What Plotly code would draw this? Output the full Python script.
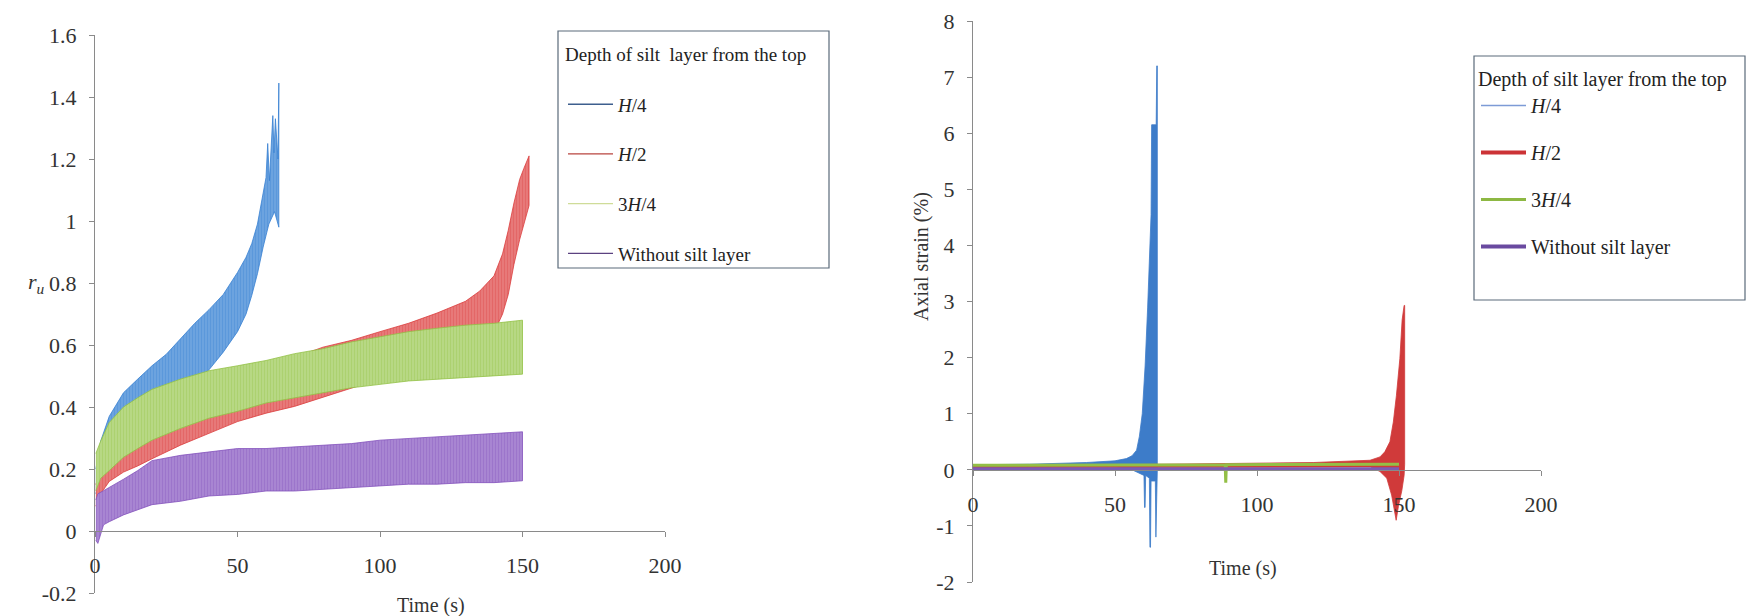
import plotly.graph_objects as go

# ---------------- Left panel: excess pore pressure ratio r_u (band envelopes) -------------
# H/4
t_h4_up = [0.3, 2, 5, 10, 15, 20, 25, 30, 35, 40, 45, 50, 53, 55, 57, 59, 60, 60.6, 61.2, 62.4, 62.8, 63.3, 64.2, 64.5]
ru_h4_up = [0.2, 0.29, 0.37, 0.446, 0.49, 0.533, 0.57, 0.62, 0.67, 0.714, 0.763, 0.834, 0.883, 0.927, 0.99, 1.09, 1.14, 1.25, 1.13, 1.34, 1.22, 1.33, 1.2, 1.445]
t_h4_lo = [0.3, 5, 10, 20, 30, 40, 45, 50, 53, 55, 57, 59, 61, 63, 64.5]
ru_h4_lo = [0.12, 0.25, 0.30, 0.38, 0.44, 0.52, 0.577, 0.643, 0.70, 0.76, 0.83, 0.916, 0.99, 1.03, 0.98]
# H/2
t_h2_up = [0.3, 2, 5, 10, 20, 30, 40, 50, 60, 70, 80, 90, 100, 110, 120, 130, 135, 140, 143, 145, 147, 149, 150.5, 151.5, 152.3]
ru_h2_up = [0.15, 0.2, 0.24, 0.28, 0.31, 0.358, 0.39, 0.435, 0.52, 0.56, 0.593, 0.615, 0.643, 0.67, 0.703, 0.741, 0.774, 0.823, 0.894, 0.97, 1.058, 1.134, 1.17, 1.19, 1.21]
t_h2_lo = [0.3, 2, 5, 10, 15, 20, 30, 40, 50, 60, 70, 80, 90, 100, 110, 120, 130, 140, 143, 145, 147, 149, 151, 152.3]
ru_h2_lo = [0.08, 0.12, 0.16, 0.19, 0.21, 0.233, 0.277, 0.315, 0.353, 0.38, 0.402, 0.43, 0.46, 0.49, 0.52, 0.55, 0.59, 0.64, 0.70, 0.763, 0.86, 0.94, 1.01, 1.05]
# 3H/4
t_3h4 = [0.3, 2, 5, 10, 15, 20, 30, 40, 50, 60, 70, 80, 90, 100, 110, 120, 130, 140, 150]
ru_3h4_up = [0.25, 0.29, 0.35, 0.40, 0.43, 0.457, 0.49, 0.517, 0.533, 0.55, 0.572, 0.588, 0.61, 0.626, 0.643, 0.654, 0.664, 0.67, 0.68]
ru_3h4_lo = [0.13, 0.17, 0.195, 0.238, 0.266, 0.293, 0.331, 0.364, 0.386, 0.413, 0.43, 0.446, 0.462, 0.473, 0.484, 0.49, 0.495, 0.50, 0.506]
# Without silt layer
t_wo = [0.3, 1, 3, 5, 10, 15, 20, 30, 40, 50, 60, 70, 80, 90, 100, 110, 120, 130, 140, 150]
ru_wo_up = [0.1, 0.12, 0.13, 0.14, 0.167, 0.195, 0.227, 0.244, 0.255, 0.266, 0.266, 0.271, 0.276, 0.282, 0.293, 0.298, 0.304, 0.309, 0.315, 0.32]
ru_wo_lo = [-0.03, -0.04, 0.02, 0.03, 0.052, 0.069, 0.085, 0.096, 0.113, 0.118, 0.129, 0.129, 0.134, 0.14, 0.145, 0.151, 0.151, 0.156, 0.156, 0.162]

# ---------------- Right panel: axial strain (%) envelopes -------------
t_s_h4_up = [0, 20, 40, 50, 54, 56, 57.6, 58.6, 59.6, 60.6, 61.5, 62.7, 62.9, 64.5, 64.7, 64.9]
s_h4_up = [0.09, 0.1, 0.13, 0.16, 0.2, 0.25, 0.35, 0.6, 1.0, 1.85, 2.9, 4.55, 6.15, 6.15, 7.2, 7.2]
t_s_h4_lo = [0, 50, 56, 60.2, 60.4, 60.6, 60.8, 62.1, 62.3, 62.5, 62.7, 64.2, 64.4, 64.6, 64.9]
s_h4_lo = [0.05, 0.06, 0.0, -0.1, -0.67, -0.67, -0.1, -0.15, -1.38, -1.38, -0.2, -0.2, -1.2, -1.2, 0.0]
t_s_h2_up = [0, 40, 80, 120, 139.8, 143.3, 145, 146.8, 148, 149.1, 150.3, 151.1, 151.8, 152]
s_h2_up = [0.06, 0.08, 0.1, 0.13, 0.17, 0.23, 0.32, 0.5, 0.85, 1.33, 1.98, 2.67, 2.93, 2.93]
t_s_h2_lo = [0, 140, 143.3, 145.7, 147.4, 148.6, 149, 149.8, 151, 151.8, 152]
s_h2_lo = [0.03, 0.05, -0.03, -0.15, -0.45, -0.8, -0.9, -0.65, -0.37, -0.1, 0.1]
t_s_3h4 = [0, 88.8, 89, 89.2, 150]
s_3h4 = [0.08, 0.09, -0.23, 0.09, 0.1]
t_s_wo = [0, 150]
s_wo = [0.02, 0.02]

# ---------------- Labels / ticks -------------
series_names = ["<i>H</i>/4", "<i>H</i>/2", "3<i>H</i>/4", "Without silt layer"]
legend_title = "Depth of silt  layer from the top"
legend_title2 = "Depth of silt layer from the top"
x_ticks = [0, 50, 100, 150, 200]
ru_ticks = [-0.2, 0, 0.2, 0.4, 0.6, 0.8, 1, 1.2, 1.4, 1.6]
ru_ticktext = ["-0.2", "0", "0.2", "0.4", "0.6", "0.8", "1", "1.2", "1.4", "1.6"]
strain_ticks = [-2, -1, 0, 1, 2, 3, 4, 5, 6, 7, 8]
strain_ticktext = ["-2", "-1", "0", "1", "2", "3", "4", "5", "6", "7", "8"]

# ---------------- Styling -------------
W, H = 1746, 616
FONT = "Liberation Serif"
band_fg = ["#3780d2", "#da3d3d", "#93c146", "#8453bc"]
band_bg = ["#7fb0e4", "#ec9090", "#c4e09a", "#b497da"]
leg1_col = ["#3e5f8e", "#b8443f", "#cfdc98", "#5b4280"]
leg2_col = ["#7d9bd6", "#cc3336", "#8db843", "#6a4aa0"]
leg2_w = [1.5, 4, 3, 4]
right_col = ["#3d7cc9", "#d03a3a", "#93bf46", "#7b5bb3"]
AXC = "#8a8a8a"
TXT = "#333333"

fig = go.Figure()


def band(t_up, v_up, t_lo, v_lo, i, xa, ya, pattern=True):
    xs = list(t_up) + list(t_lo)[::-1]
    ys = list(v_up) + list(v_lo)[::-1]
    kw = dict(x=xs, y=ys, mode="lines", fill="toself", showlegend=False,
              hoverinfo="skip", xaxis=xa, yaxis=ya,
              line=dict(color=band_fg[i] if pattern else right_col[i], width=0.8))
    if pattern:
        kw["fillcolor"] = band_bg[i]
        kw["fillpattern"] = dict(shape="|", fgcolor=band_fg[i], bgcolor=band_bg[i],
                                 size=3, solidity=0.7)
    else:
        kw["fillcolor"] = right_col[i]
    fig.add_trace(go.Scatter(**kw))


# Left panel bands (drawing order as in the spreadsheet)
band(t_h4_up, ru_h4_up, t_h4_lo, ru_h4_lo, 0, "x", "y")
band(t_h2_up, ru_h2_up, t_h2_lo, ru_h2_lo, 1, "x", "y")
band(t_3h4, ru_3h4_up, t_3h4, ru_3h4_lo, 2, "x", "y")
band(t_wo, ru_wo_up, t_wo, ru_wo_lo, 3, "x", "y")

# Right panel
band(t_s_h4_up, s_h4_up, t_s_h4_lo, s_h4_lo, 0, "x2", "y2", pattern=False)
band(t_s_h2_up, s_h2_up, t_s_h2_lo, s_h2_lo, 1, "x2", "y2", pattern=False)
fig.add_trace(go.Scatter(x=t_s_3h4, y=s_3h4, mode="lines", showlegend=False, hoverinfo="skip",
                         line=dict(color=right_col[2], width=3), xaxis="x2", yaxis="y2"))
fig.add_trace(go.Scatter(x=t_s_wo, y=s_wo, mode="lines", showlegend=False, hoverinfo="skip",
                         line=dict(color=right_col[3], width=3), xaxis="x2", yaxis="y2"))

# Legend entries
for i, nm in enumerate(series_names):
    fig.add_trace(go.Scatter(x=[None], y=[None], mode="lines", name=nm, legend="legend",
                             legendgroup="a%d" % i, line=dict(color=leg1_col[i], width=1.3),
                             xaxis="x", yaxis="y"))
for i, nm in enumerate(series_names):
    fig.add_trace(go.Scatter(x=[None], y=[None], mode="lines", name=nm, legend="legend2",
                             legendgroup="b%d" % i, line=dict(color=leg2_col[i], width=leg2_w[i]),
                             xaxis="x2", yaxis="y2"))


def px_x(p):
    return p / W


def px_y(p):
    return 1 - p / H


# Axes geometry
l_y_top, l_y_bot = px_y(35), px_y(593)
l_zero = l_y_bot + (0 - (-0.2)) / 1.8 * (l_y_top - l_y_bot)
r_y_top, r_y_bot = px_y(21), px_y(582)
r_zero = r_y_bot + (0 - (-2)) / 10 * (r_y_top - r_y_bot)

tickfont = dict(family=FONT, size=22, color=TXT)
axis_common = dict(showgrid=False, zeroline=False, showline=True, linecolor=AXC, linewidth=1,
                   ticks="outside", ticklen=5, tickcolor=AXC, tickfont=tickfont, automargin=False)

fig.update_layout(
    width=W, height=H, autosize=False,
    margin=dict(l=0, r=0, t=0, b=0),
    paper_bgcolor="white", plot_bgcolor="white",
    xaxis=dict(domain=[px_x(95), px_x(665)], range=[0, 200], tickvals=x_ticks,
               anchor="free", position=l_zero, ticklabelstandoff=10, **axis_common),
    yaxis=dict(domain=[l_y_bot, l_y_top], range=[-0.2, 1.6], tickvals=ru_ticks,
               ticktext=ru_ticktext, anchor="x", ticklabelstandoff=8, **axis_common),
    xaxis2=dict(domain=[px_x(973), px_x(1541)], range=[0, 200], tickvals=x_ticks,
                anchor="free", position=r_zero, ticklabelstandoff=10, **axis_common),
    yaxis2=dict(domain=[r_y_bot, r_y_top], range=[-2, 8], tickvals=strain_ticks,
                ticktext=strain_ticktext, anchor="x2", ticklabelstandoff=8, **axis_common),
    legend=dict(x=px_x(563), y=px_y(36), xanchor="left", yanchor="top",
                bgcolor="rgba(0,0,0,0)", borderwidth=0,
                font=dict(family=FONT, size=19, color="#222222"),
                title=dict(text=legend_title + "<br> ", font=dict(family=FONT, size=19, color="#222222")),
                itemwidth=45, tracegroupgap=22, traceorder="grouped"),
    legend2=dict(x=px_x(1476), y=px_y(60), xanchor="left", yanchor="top",
                 bgcolor="rgba(0,0,0,0)", borderwidth=0,
                 font=dict(family=FONT, size=20, color="#222222"),
                 title=dict(text=legend_title2, font=dict(family=FONT, size=20, color="#222222")),
                 itemwidth=45, tracegroupgap=18, traceorder="grouped"),
    shapes=[
        dict(type="rect", xref="paper", yref="paper", x0=px_x(558), x1=px_x(829),
             y0=px_y(268), y1=px_y(31), line=dict(color="#5a6a7a", width=1.2)),
        dict(type="rect", xref="paper", yref="paper", x0=px_x(1474), x1=px_x(1745),
             y0=px_y(300), y1=px_y(56), line=dict(color="#5a6a7a", width=1.2)),
    ],
    annotations=[
        dict(text="<i>r<sub>u</sub></i>", x=px_x(26), y=px_y(283), xref="paper", yref="paper",
             showarrow=False, font=dict(family=FONT, size=22, color=TXT)),
        dict(text="Time (s)", x=px_x(395), y=px_y(605), xref="paper", yref="paper",
             showarrow=False, yanchor="middle", font=dict(family=FONT, size=20, color=TXT)),
        dict(text="Time (s)", x=px_x(1279), y=px_y(582), xref="paper", yref="paper",
             showarrow=False, font=dict(family=FONT, size=20, color=TXT)),
        dict(text="Axial strain (%)", x=px_x(922), y=px_y(257), xref="paper", yref="paper",
             showarrow=False, textangle=-90, font=dict(family=FONT, size=20, color=TXT)),
    ],
)

fig.write_html("out.html", config={"displayModeBar": False},
               post_script="document.body.style.margin='0px';document.body.style.overflow='hidden';")
